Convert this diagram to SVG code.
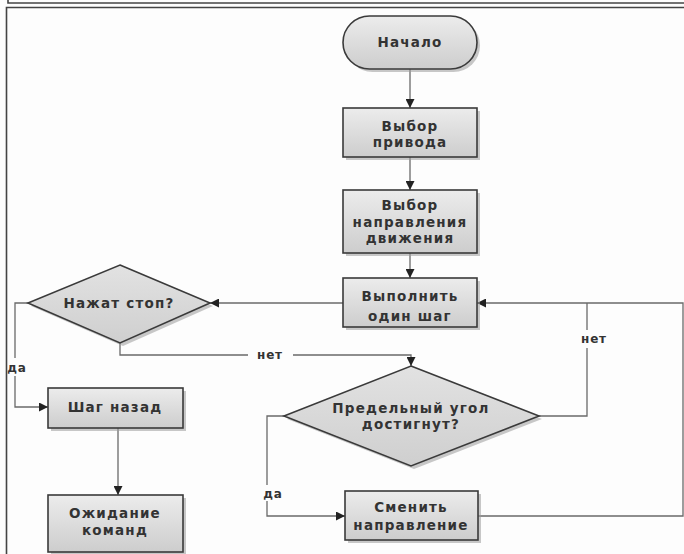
<svg xmlns="http://www.w3.org/2000/svg" width="684" height="554" viewBox="0 0 684 554">
<style>
.box{fill:url(#g);stroke:#3a3a3a;stroke-width:1.6}
.dia{fill:url(#gd);stroke:#3a3a3a;stroke-width:1.6}
.sh{fill:#9a9a9a;opacity:0.55}
.t{font-family:"DejaVu Sans",Verdana,sans-serif;font-weight:bold;font-size:13.5px;fill:#333;text-anchor:middle;letter-spacing:1.2px}
.lbl{font-family:"DejaVu Sans",Verdana,sans-serif;font-weight:bold;font-size:12px;fill:#333;text-anchor:middle;letter-spacing:0.8px}
.c{fill:none;stroke:#6a6a6a;stroke-width:1.3}
.frame{fill:none;stroke:#444;stroke-width:1.6}
</style>
<defs>
<linearGradient id="g" x1="0" y1="0" x2="0" y2="1"><stop offset="0" stop-color="#ececec"/><stop offset="1" stop-color="#cdcdcd"/></linearGradient>
<linearGradient id="gd" x1="0" y1="0" x2="0" y2="1"><stop offset="0" stop-color="#e2e2e2"/><stop offset="1" stop-color="#cfcfcf"/></linearGradient>
<marker id="arr" viewBox="0 0 10 10" refX="10" refY="5" markerWidth="9" markerHeight="9" markerUnits="userSpaceOnUse" orient="auto"><path d="M0,0 L10,5 L0,10 z" fill="#222"/></marker>
</defs>
<rect width="684" height="554" fill="#fdfdfd"/>
<g id="frame">
<path class="frame" d="M8,0 V3 H684"/>
<path class="frame" d="M684,7.5 H6.5 V554"/>
</g>
<g id="connectors">
<path class="c" d="M410,69 V108" marker-end="url(#arr)"/>
<path class="c" d="M410,157 V190" marker-end="url(#arr)"/>
<path class="c" d="M410,253 V278" marker-end="url(#arr)"/>
<path class="c" d="M343,303 H210" marker-end="url(#arr)"/>
<path class="c" d="M28,303 H15 V358"/>
<path class="c" d="M15,376 V407 H48" marker-end="url(#arr)"/>
<path class="c" d="M120,343 V355 H248"/>
<path class="c" d="M293,355 H411 V366" marker-end="url(#arr)"/>
<path class="c" d="M539,416 H587 V348"/>
<path class="c" d="M587,330 V303"/>
<path class="c" d="M478,516 H683 V303 H477" marker-end="url(#arr)"/>
<path class="c" d="M284,416 H267 V485"/>
<path class="c" d="M267,501 V516 H345" marker-end="url(#arr)"/>
<path class="c" d="M118,428 V495" marker-end="url(#arr)"/>
<text class="lbl" x="17" y="372">да</text>
<text class="lbl" x="270" y="359">нет</text>
<text class="lbl" x="594" y="343">нет</text>
<text class="lbl" x="273" y="498">да</text>
</g>
<g id="start">
<rect class="sh" x="346" y="19" width="134" height="53" rx="26.5"/>
<rect class="box" x="343" y="16" width="134" height="53" rx="26.5"/>
<text class="t" x="410" y="47">Начало</text>
</g>
<g id="select-drive">
<rect class="sh" x="346" y="111" width="134" height="49"/>
<rect class="box" x="343" y="108" width="134" height="49"/>
<text class="t" x="410" y="131">Выбор</text>
<text class="t" x="410" y="147">привода</text>
</g>
<g id="select-direction">
<rect class="sh" x="346" y="193" width="134" height="63"/>
<rect class="box" x="343" y="190" width="134" height="63"/>
<text class="t" x="410" y="210">Выбор</text>
<text class="t" x="410" y="227">направления</text>
<text class="t" x="410" y="243">движения</text>
</g>
<g id="step">
<rect class="sh" x="346" y="281" width="134" height="49"/>
<rect class="box" x="343" y="278" width="134" height="49"/>
<text class="t" x="410" y="301">Выполнить</text>
<text class="t" x="410" y="321">один шаг</text>
</g>
<g id="stop-pressed">
<polygon class="sh" points="123,268 213,306 123,346 31,306"/>
<polygon class="dia" points="120,265 210,303 120,343 28,303"/>
<text class="t" x="119" y="308">Нажат стоп?</text>
</g>
<g id="limit-reached">
<polygon class="sh" points="414,369 542,419 414,469 287,419"/>
<polygon class="dia" points="411,366 539,416 411,466 284,416"/>
<text class="t" x="411" y="413">Предельный угол</text>
<text class="t" x="411" y="429">достигнут?</text>
</g>
<g id="step-back">
<rect class="sh" x="51" y="391" width="135" height="40"/>
<rect class="box" x="48" y="388" width="135" height="40"/>
<text class="t" x="115" y="412">Шаг назад</text>
</g>
<g id="wait">
<rect class="sh" x="51" y="498" width="135" height="57"/>
<rect class="box" x="48" y="495" width="135" height="57"/>
<text class="t" x="115" y="518">Ожидание</text>
<text class="t" x="115" y="535">команд</text>
</g>
<g id="change-direction">
<rect class="sh" x="348" y="494" width="133" height="49"/>
<rect class="box" x="345" y="491" width="133" height="49"/>
<text class="t" x="411" y="512">Сменить</text>
<text class="t" x="411" y="530">направление</text>
</g>
</svg>
